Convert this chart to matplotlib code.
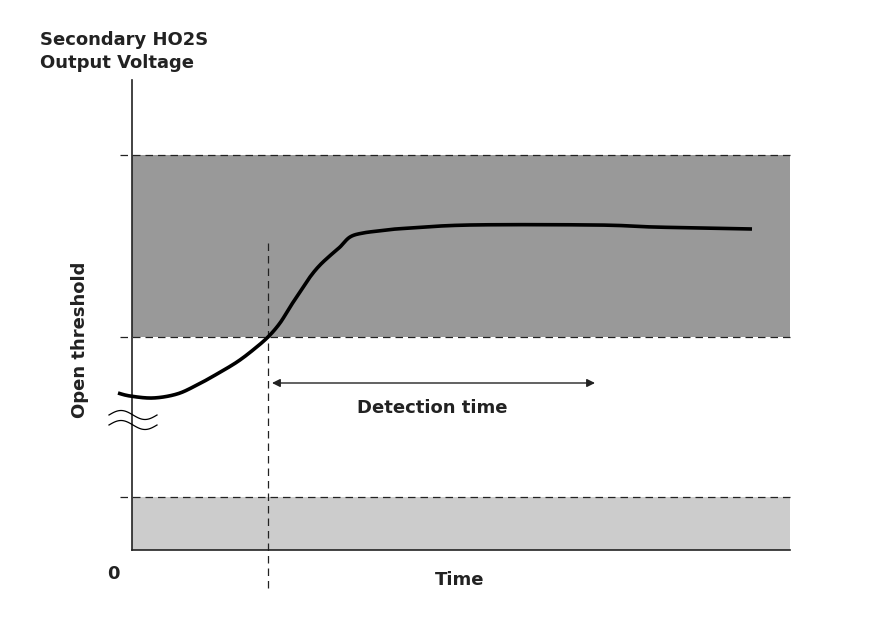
import matplotlib
matplotlib.use("Agg")
import matplotlib.pyplot as plt
import numpy as np

plt.rcParams['font.family'] = ['DejaVu Sans']

# Pixel-like coordinate system (x right, y down)
curve_x = [118, 130, 153, 177, 197, 217, 237, 253, 268, 280, 290, 300, 310, 320, 333, 340, 350, 363, 383, 403, 470, 597, 653, 703, 752]
curve_y = [393, 396, 398, 394, 385, 374, 362, 350, 337, 323, 307, 292, 277, 265, 253, 247, 237, 233, 230.5, 228.5, 225, 225, 227, 228, 229]

axis_left, axis_right = 132, 790
axis_top, axis_bottom = 80, 550
dark_band = (155, 337)
light_band = (497, 550)
threshold_lines = [155, 337, 497]
detect_x = 268
arrow_span = (272, 595)
arrow_y = 383


def catmull_rom(xs, ys, n=12):
    p = np.column_stack([xs, ys]).astype(float)
    p = np.vstack([p[0], p, p[-1]])
    out = []
    for i in range(1, len(p) - 2):
        p0, p1, p2, p3 = p[i - 1], p[i], p[i + 1], p[i + 2]
        for t in np.linspace(0, 1, n, endpoint=False):
            t2, t3 = t * t, t * t * t
            pt = 0.5 * ((2 * p1) + (-p0 + p2) * t + (2 * p0 - 5 * p1 + 4 * p2 - p3) * t2
                        + (-p0 + 3 * p1 - 3 * p2 + p3) * t3)
            out.append(pt)
    out.append(p[-2])
    out = np.array(out)
    return out[:, 0], out[:, 1]


fig = plt.figure(figsize=(8.74, 6.32), dpi=100)
ax = fig.add_axes([0, 0, 1, 1])
ax.set_xlim(0, 874)
ax.set_ylim(632, 0)
ax.axis('off')

ax.fill_between([axis_left, axis_right], dark_band[0], dark_band[1], color='#999999', lw=0, zorder=1)
ax.fill_between([axis_left, axis_right], light_band[0], light_band[1], color='#cccccc', lw=0, zorder=1)

for y in threshold_lines:
    ax.plot([120, axis_right], [y, y], color='#222222', lw=0.9, ls=(0, (6, 4)), zorder=2)

ax.plot([axis_left, axis_left], [axis_top, axis_bottom], color='#222222', lw=1.2, zorder=3)
ax.plot([axis_left, axis_right], [axis_bottom, axis_bottom], color='#222222', lw=1.2, zorder=3)

ax.plot([detect_x, detect_x], [243, 592], color='#222222', lw=0.9, ls=(0, (6, 4)), zorder=2)

sx, sy = catmull_rom(curve_x, curve_y)
ax.plot(sx, sy, color='black', lw=2.6, solid_capstyle='butt', solid_joinstyle='round', zorder=4)

ax.annotate('', xy=(arrow_span[0], arrow_y), xytext=(arrow_span[1], arrow_y),
            arrowprops=dict(arrowstyle='<|-|>', color='#222222', lw=1.0, mutation_scale=12, shrinkA=0, shrinkB=0), zorder=4)

# break symbol
t = np.linspace(0, 1, 60)
for off in (0, 10):
    xs = 109 + 48 * t
    ys = 415 + off - 4.5 * np.sin(2 * np.pi * t)
    ax.plot(xs, ys, color='black', lw=0.9, zorder=4)

tk = dict(fontweight='bold', color='#222222', fontsize=13)
ax.text(40, 31, 'Secondary HO2S\nOutput Voltage', ha='left', va='top', linespacing=1.35, **tk)
ax.text(80, 340, 'Open threshold', rotation=90, ha='center', va='center', **tk)
ax.text(113, 574, '0', ha='center', va='center', **tk)
ax.text(460, 580, 'Time', ha='center', va='center', **tk)
ax.text(432, 408, 'Detection time', ha='center', va='center', **tk)

fig.savefig('out.png', dpi=100)
